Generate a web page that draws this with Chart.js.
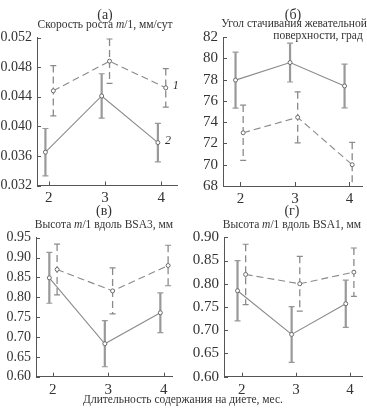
<!DOCTYPE html>
<html>
<head>
<meta charset="utf-8">
<script src="https://cdn.jsdelivr.net/npm/chart.js@4.4.1/dist/chart.umd.min.js"></script>
<style>
  body { margin: 0; background: #fff; }
  #wrap { position: relative; width: 367px; height: 408px; overflow: hidden; font-family: "Liberation Serif", serif; color: #333; }
  canvas { position: absolute; left: 0; top: 0; }
  .t { position: absolute; white-space: nowrap; transform: translate(-50%, -50%); }
  .s { font-size: 11.5px; }
  .h { font-size: 14px; }
</style>
</head>
<body>
<div id="wrap">
  <canvas id="ca" width="367" height="408"></canvas>
  <canvas id="cb" width="367" height="408"></canvas>
  <canvas id="cv" width="367" height="408"></canvas>
  <canvas id="cg" width="367" height="408"></canvas>

  <div class="t h" style="left:105px;top:15px">(а)</div>
  <div class="t s" style="left:105px;top:24px">Скорость роста <i>m</i>/1, мм/сут</div>
  <div class="t h" style="left:293px;top:15px">(б)</div>
  <div class="t s" style="left:294px;top:23px">Угол стачивания жевательной</div>
  <div class="t s" style="left:318px;top:35px">поверхности, град</div>
  <div class="t h" style="left:104px;top:211px">(в)</div>
  <div class="t s" style="left:104px;top:224px">Высота <i>m</i>/1 вдоль BSA3, мм</div>
  <div class="t h" style="left:292px;top:211px">(г)</div>
  <div class="t s" style="left:292px;top:224px">Высота <i>m</i>/1 вдоль BSA1, мм</div>
  <div class="t s" style="left:183px;top:399px">Длительность содержания на диете, мес.</div>
</div>
<script>
// months on diet
const months = [2, 3, 4];

// (а) growth rate, series 1 = dashed, series 2 = solid
const rate1 = [0.0448, 0.0488, 0.0452];
const rate1Err = [0.0034, 0.0030, 0.0026];
const rate2 = [0.0365, 0.0441, 0.0378];
const rate2Err = [0.0032, 0.0030, 0.0026];
const rateTicks = [0.032, 0.036, 0.040, 0.044, 0.048, 0.052];

// (б) wear angle
const angle1 = [73.0, 74.45, 70.0];
const angle1Err = [2.6, 2.4, 2.1];
const angle2 = [77.95, 79.6, 77.4];
const angle2Err = [2.63, 1.83, 2.05];
const angleTicks = [68, 70, 72, 74, 76, 78, 80, 82];

// (в) height along BSA3
const bsa3_1 = [0.870, 0.816, 0.880];
const bsa3_1Err = [0.064, 0.058, 0.051];
const bsa3_2 = [0.849, 0.683, 0.761];
const bsa3_2Err = [0.064, 0.058, 0.050];
const bsa3Ticks = [0.60, 0.65, 0.70, 0.75, 0.80, 0.85, 0.90, 0.95];

// (г) height along BSA1
const bsa1_1 = [0.820, 0.800, 0.825];
const bsa1_1Err = [0.065, 0.059, 0.052];
const bsa1_2 = [0.785, 0.691, 0.757];
const bsa1_2Err = [0.065, 0.060, 0.051];
const bsa1Ticks = [0.60, 0.65, 0.70, 0.75, 0.80, 0.85, 0.90];

const AXIS = '#555';
const LINE = '#8a8a8a';

// error bars, drawn under the points
const errorBars = {
  id: 'errorBars',
  beforeDatasetsDraw(chart) {
    const ctx = chart.ctx, ys = chart.scales.y, a = chart.chartArea;
    ctx.save();
    ctx.beginPath();
    ctx.rect(a.left, a.top - 6, a.right - a.left + 6, a.bottom - a.top + 6);
    ctx.clip();
    chart.data.datasets.forEach((ds, i) => {
      const meta = chart.getDatasetMeta(i);
      ctx.strokeStyle = ds.barColor;
      meta.data.forEach((pt, j) => {
        const v = ds.data[j].y, e = ds.err[j];
        const hi = ys.getPixelForValue(v + e);
        const lo = ys.getPixelForValue(v - e);
        ctx.lineWidth = ds.barWidth;
        ctx.setLineDash(ds.borderDash || []);
        ctx.beginPath();
        ctx.moveTo(pt.x, hi);
        ctx.lineTo(pt.x, lo);
        ctx.stroke();
        ctx.setLineDash([]);
        ctx.lineWidth = 1.2;
        ctx.beginPath();
        ctx.moveTo(pt.x - 3, hi); ctx.lineTo(pt.x + 3, hi);
        if (lo <= a.bottom) { ctx.moveTo(pt.x - 3, lo); ctx.lineTo(pt.x + 3, lo); }
        ctx.stroke();
      });
    });
    ctx.restore();
  }
};

// tick marks pointing inside the plot
const innerTicks = {
  id: 'innerTicks',
  afterDraw(chart) {
    const ctx = chart.ctx, a = chart.chartArea;
    const xs = chart.scales.x, ys = chart.scales.y;
    ctx.save();
    ctx.strokeStyle = AXIS;
    ctx.lineWidth = 1;
    xs.ticks.forEach(t => {
      const px = Math.round(xs.getPixelForValue(t.value)) + 0.5;
      ctx.beginPath(); ctx.moveTo(px, a.bottom); ctx.lineTo(px, a.bottom - 4); ctx.stroke();
    });
    ys.ticks.forEach(t => {
      const py = Math.round(ys.getPixelForValue(t.value)) + 0.5;
      ctx.beginPath(); ctx.moveTo(a.left, py); ctx.lineTo(a.left + 4, py); ctx.stroke();
    });
    // curve numbers
    ctx.fillStyle = '#333';
    ctx.font = 'italic 12px "Liberation Serif"';
    ctx.textBaseline = 'middle';
    chart.data.datasets.forEach((ds, i) => {
      if (!ds.tag) return;
      const meta = chart.getDatasetMeta(i);
      const p = meta.data[meta.data.length - 1];
      ctx.fillText(ds.tag, p.x + 7, p.y - 2);
    });
    ctx.restore();
  }
};

function series(vals, err, shift, dashed, tag) {
  return {
    data: months.map((m, i) => ({ x: m + shift, y: vals[i] })),
    err: err,
    tag: tag,
    borderColor: LINE,
    borderWidth: 1.1,
    borderDash: dashed ? [7, 4] : [],
    barColor: dashed ? '#8a8a8a' : '#999',
    barWidth: dashed ? 1.3 : 2.2,
    pointRadius: 2,
    pointBackgroundColor: '#fff',
    pointBorderColor: '#6a6a6a',
    pointBorderWidth: 1,
    tension: 0,
    fill: false
  };
}

function panel(id, area, xMin, xMax, yTicks, digits, datasets) {
  const right = area.left > 100;
  const yWidth = right ? 40 : area.left;
  const fs = right ? 15 : 14;
  new Chart(document.getElementById(id), {
    type: 'line',
    data: { datasets: datasets },
    options: {
      responsive: false,
      animation: false,
      layout: {
        padding: {
          left: area.left - yWidth,
          top: area.top,
          right: 367 - area.right,
          bottom: 408 - area.bottom - 22
        }
      },
      plugins: { legend: { display: false }, tooltip: { enabled: false } },
      scales: {
        x: {
          type: 'linear', min: xMin, max: xMax,
          afterBuildTicks: s => { s.ticks = months.map(v => ({ value: v })); },
          afterFit: s => { s.height = 22; },
          grid: { display: false, drawTicks: false },
          border: { display: true, color: AXIS, width: 1 },
          ticks: { color: '#333', font: { family: 'Liberation Serif', size: 15 }, padding: 4, autoSkip: false, maxRotation: 0 }
        },
        y: {
          min: yTicks[0], max: yTicks[yTicks.length - 1],
          afterBuildTicks: s => { s.ticks = yTicks.map(v => ({ value: v })); },
          afterFit: s => { s.width = yWidth; },
          grid: { display: false, drawTicks: false },
          border: { display: true, color: AXIS, width: 1 },
          ticks: {
            color: '#333', font: { family: 'Liberation Serif', size: fs }, padding: 5, autoSkip: false,
            callback: v => v.toFixed(digits)
          }
        }
      }
    },
    plugins: [errorBars, innerTicks]
  });
}

panel('ca', { left: 37, top: 37.5, right: 177, bottom: 185.5 }, 1.79, 4.28, rateTicks, 3, [
  series(rate1, rate1Err, 0.08, true, '1'),
  series(rate2, rate2Err, -0.06, false, '2')
]);
panel('cb', { left: 223, top: 37, right: 367, bottom: 186 }, 1.68, 4.23, angleTicks, 0, [
  series(angle1, angle1Err, 0.05, true),
  series(angle2, angle2Err, -0.09, false)
]);
panel('cv', { left: 36, top: 237.7, right: 172, bottom: 376.7 }, 1.70, 4.15, bsa3Ticks, 2, [
  series(bsa3_1, bsa3_1Err, 0.08, true),
  series(bsa3_2, bsa3_2Err, -0.06, false)
]);
panel('cg', { left: 224, top: 237.3, right: 367, bottom: 376.7 }, 1.67, 4.22, bsa1Ticks, 2, [
  series(bsa1_1, bsa1_1Err, 0.07, true),
  series(bsa1_2, bsa1_2Err, -0.08, false)
]);
</script>
</body>
</html>
